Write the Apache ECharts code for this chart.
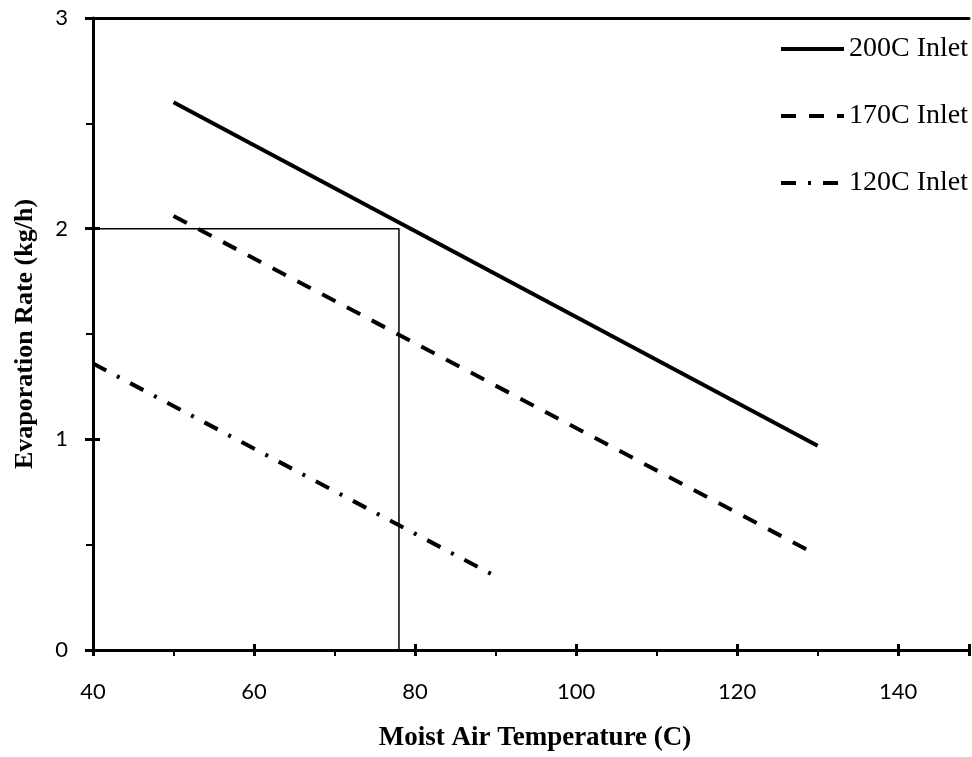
<!DOCTYPE html>
<html>
<head>
<meta charset="utf-8">
<script src="https://cdn.jsdelivr.net/npm/echarts@6/dist/echarts.min.js"></script>
<style>
  html, body { margin: 0; padding: 0; background: #fff; }
  #chart { width: 972px; height: 757px; }
</style>
</head>
<body>
<div id="chart"></div>
<script>
// data
const seriesNames = ['200C Inlet', '170C Inlet', '120C Inlet'];
const inlet200 = [[50, 2.60], [130, 0.97]];
const inlet170 = [[50, 2.06], [130, 0.45]];
const inlet120 = [[40, 1.36], [90, 0.35]];
// reference lines at 2 kg/h
const refLine = [[40, 2], [78, 2], [78, 0]];

const xTicks = [40, 60, 80, 100, 120, 140];
const yTicks = [0, 1, 2, 3];

const chart = echarts.init(document.getElementById('chart'));

const labelFont = { fontFamily: 'Lato', fontSize: 22, color: '#000' };
const nameFont = { fontFamily: 'Liberation Serif', fontWeight: 'bold', color: '#000' };

// the x axis runs on past the right edge of the picture
const xMax = 148.8;

const option = {
  animation: false,
  backgroundColor: '#fff',
  grid: { left: 93, right: 0, top: 18, bottom: 106 },
  legend: {
    data: seriesNames,
    orient: 'vertical',
    left: 774,
    top: 30,
    itemWidth: 63,
    itemHeight: 28,
    itemGap: 39,
    itemStyle: { opacity: 0 },
    lineStyle: { width: 4 },
    textStyle: { fontFamily: 'Liberation Serif', fontSize: 28, color: '#000' }
  },
  xAxis: [
    {
      type: 'value', min: 40, max: xMax, interval: 20,
      name: 'Moist Air Temperature (C)', nameLocation: 'middle', nameGap: 75,
      nameTextStyle: Object.assign({ fontSize: 27, padding: [0, 0, 0, 8] }, nameFont),
      axisLine: { lineStyle: { color: '#000', width: 3 } },
      axisTick: { length: 6, lineStyle: { color: '#000', width: 3 } },
      minorTick: { show: true, splitNumber: 2, length: 6, lineStyle: { color: '#000', width: 2 } },
      axisLabel: Object.assign({ margin: 31, formatter: v => xTicks.includes(v) ? String(v) : '' }, labelFont),
      splitLine: { show: false }
    },
    {
      type: 'value', min: 40, max: xMax, interval: 20, position: 'bottom',
      axisLine: { show: false },
      axisTick: { inside: true, length: 6, lineStyle: { color: '#000', width: 3 } },
      axisLabel: { show: false },
      splitLine: { show: false }
    },
    {
      // top frame line
      type: 'value', min: 40, max: xMax, position: 'top',
      axisLine: { show: true, lineStyle: { color: '#000', width: 3 } },
      axisTick: { show: false },
      axisLabel: { show: false },
      splitLine: { show: false }
    }
  ],
  yAxis: [
    {
      type: 'value', min: 0, max: 3, interval: 1,
      name: 'Evaporation Rate (kg/h)', nameLocation: 'middle', nameGap: 55,
      nameTextStyle: Object.assign({ fontSize: 26 }, nameFont),
      axisLine: { show: true, lineStyle: { color: '#000', width: 3 } },
      axisTick: { show: true, length: 8, lineStyle: { color: '#000', width: 3 } },
      minorTick: { show: true, splitNumber: 2, length: 7, lineStyle: { color: '#000', width: 2 } },
      axisLabel: Object.assign({ margin: 25, formatter: v => yTicks.includes(v) ? String(v) : '' }, labelFont),
      splitLine: { show: false }
    },
    {
      type: 'value', min: 0, max: 3, interval: 1, position: 'left',
      axisLine: { show: false },
      axisTick: { show: true, inside: true, length: 7, lineStyle: { color: '#000', width: 3 } },
      axisLabel: { show: false },
      splitLine: { show: false }
    }
  ],
  series: [
    {
      name: '200C Inlet', type: 'line', data: inlet200, symbol: 'none',
      lineStyle: { color: '#000', width: 4, type: 'solid' },
      itemStyle: { color: '#000' }
    },
    {
      name: '170C Inlet', type: 'line', data: inlet170, symbol: 'none',
      lineStyle: { color: '#000', width: 4, type: [15, 13] },
      itemStyle: { color: '#000' }
    },
    {
      name: '120C Inlet', type: 'line', data: inlet120, symbol: 'none',
      lineStyle: { color: '#000', width: 4, type: [15, 12, 3, 12] },
      itemStyle: { color: '#000' }
    },
    {
      name: 'ref', type: 'line', data: refLine, symbol: 'none', silent: true,
      lineStyle: { color: '#000', width: 1.5 },
      itemStyle: { color: '#000' }
    }
  ]
};

chart.setOption(option);
</script>
</body>
</html>
